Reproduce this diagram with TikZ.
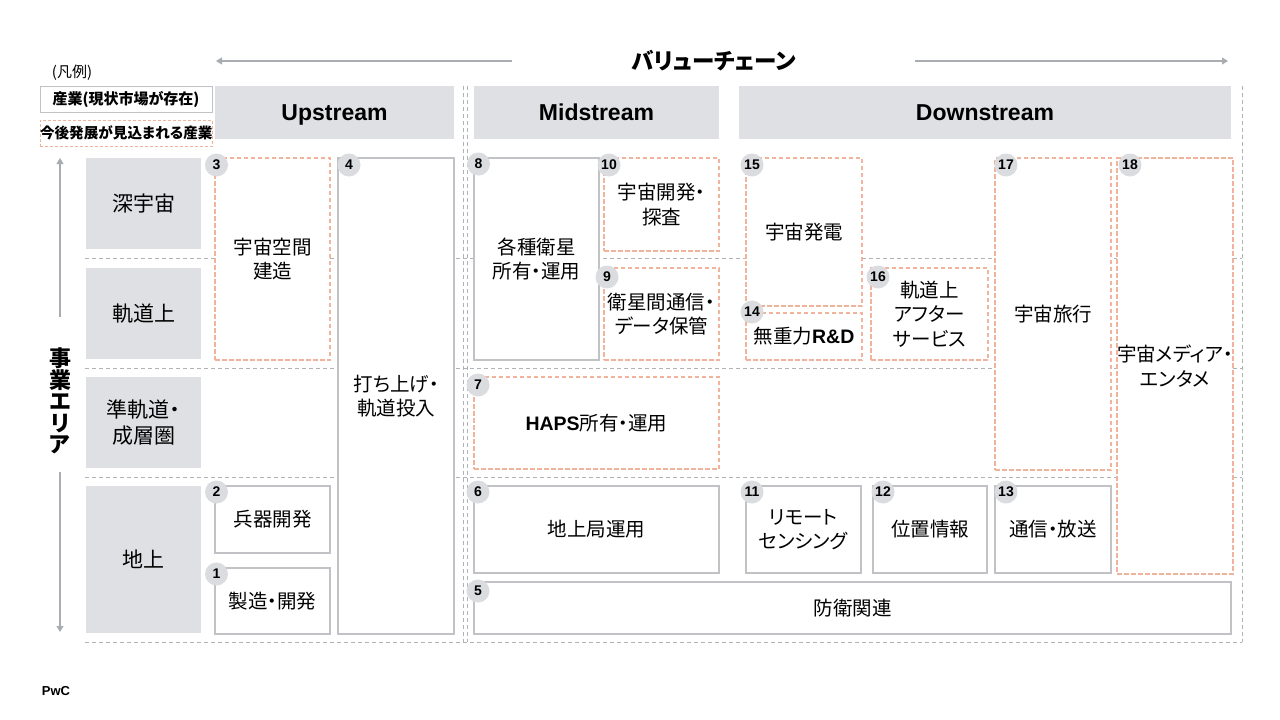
\documentclass[tikz,border=0pt]{standalone}
\usepackage{fontspec}
\setmainfont{Noto Sans CJK JP}[RawFeature=+palt]
\newfontfamily\arialf{Liberation Sans}
\usetikzlibrary{arrows.meta}
\definecolor{hdr}{HTML}{DEE0E3}
\definecolor{bord}{HTML}{C0C2C6}
\definecolor{org}{HTML}{F1B39B}
\definecolor{gridc}{HTML}{AFB2B7}
\definecolor{circ}{HTML}{DADCDF}
\definecolor{arrg}{HTML}{A9ACB1}
\begin{document}
\begin{tikzpicture}[x=1pt,y=-1pt,
  every node/.style={inner sep=0pt, outer sep=0pt},
  bx/.style={draw=bord, line width=1.4pt, fill=white, anchor=north west, align=center, text=black, font=\fontsize{19.5}{24.5}\selectfont},
  fbx/.style={bx, draw=org, dash pattern=on 4.5pt off 2.5pt},
  hd/.style={fill=hdr, anchor=north west, align=center},
  hdtxt/.style={font=\arialf\bfseries\fontsize{23}{23}\selectfont, text height=16.5pt, text depth=0pt},
  rowtxt/.style={font=\fontsize{21}{26}\selectfont},
  num/.style={circle, fill=circ, minimum size=23pt, font=\arialf\bfseries\fontsize{14}{14}\selectfont},
  gl/.style={draw=gridc, line width=0.8pt, dash pattern=on 4pt off 3pt},
  ga/.style={draw=arrg, line width=1.1pt, -{Triangle[width=7pt,length=6pt]}}]

\fill[white] (0,0) rectangle (1280,720);
\useasboundingbox (0,0) rectangle (1280,720);

% grid
\foreach \yy in {258,368,477,642} \draw[gl] (85,\yy) -- (1242,\yy);
\draw[gl] (463,86) -- (463,642);
\draw[gl] (467,86) -- (467,642);
\draw[gl] (1242,86) -- (1242,642);

% title and value chain arrows
\node[font=\bfseries\fontsize{22.5}{22.5}\selectfont] (vc) at (714,61) {バリューチェーン};
\coordinate (vcl) at (512,61); \coordinate (vcle) at (216,61);
\coordinate (vcr) at (915,61); \coordinate (vcre) at (1228,61);
\draw[ga] (vcl) -- (vcle);
\draw[ga] (vcr) -- (vcre);

% legend
\node[font=\fontsize{15}{15}\selectfont] (lg) at (72,73) {(凡例)};
\node[draw=bord, line width=1pt, anchor=north west, minimum width=172pt, minimum height=26pt, font=\bfseries\fontsize{15}{15}\selectfont] (lg1) at (40,86) {産業(現状市場が存在)};
\node[draw=org, line width=1pt, dash pattern=on 3pt off 2pt, anchor=north west, minimum width=172pt, minimum height=26pt, font=\bfseries\fontsize{14.6}{14.6}\selectfont] (lg2) at (40,120) {今後発展が見込まれる産業};

% headers
\node[hd, hdtxt, minimum width=239pt, minimum height=53pt] (up) at (215,86) {Upstream};
\node[hd, hdtxt, minimum width=245pt, minimum height=53pt] (mid) at (474,86) {Midstream};
\node[hd, hdtxt, minimum width=492pt, minimum height=53pt] (down) at (739,86) {Downstream};

% row labels
\node[hd, rowtxt, minimum width=115pt, minimum height=91pt] (r1) at (86,158) {深宇宙};
\node[hd, rowtxt, minimum width=115pt, minimum height=91pt] (r2) at (86,268) {軌道上};
\node[hd, rowtxt, minimum width=115pt, minimum height=91pt] (r3) at (86,377) {準軌道・\\成層圏};
\node[hd, rowtxt, minimum width=115pt, minimum height=147pt] (r4) at (86,486) {地上};

% business area axis
\node[font=\bfseries\fontsize{22}{21.5}\selectfont, align=center] (area) at (60,401) {事\\業\\エ\\リ\\ア};
\coordinate (au0) at (60,317); \coordinate (au) at (60,158);
\coordinate (ad0) at (60,472); \coordinate (ad) at (60,632);
\draw[ga] (au0) -- (au);
\draw[ga] (ad0) -- (ad);

% upstream boxes
\node[fbx, minimum width=115pt, minimum height=202pt] (b3) at (215,158) {宇宙空間\\建造};
\node[bx, minimum width=116pt, minimum height=476pt] (b4) at (338,158) {打ち上げ・\\軌道投入};
\node[bx, minimum width=115pt, minimum height=67pt] (b2) at (215,486) {兵器開発};
\node[bx, minimum width=115pt, minimum height=66pt] (b1) at (215,568) {製造・開発};

% midstream boxes
\node[bx, minimum width=125pt, minimum height=202pt] (b8) at (474,158) {各種衛星\\所有・運用};
\node[fbx, minimum width=115pt, minimum height=93pt] (b10) at (604,158) {宇宙開発・\\探査};
\node[fbx, minimum width=115pt, minimum height=92pt] (b9) at (604,268) {衛星間通信・\\データ保管};
\node[fbx, minimum width=245pt, minimum height=92pt] (b7) at (474,377) {{\arialf\bfseries HAPS}所有・運用};
\node[bx, minimum width=245pt, minimum height=87pt] (b6) at (474,486) {地上局運用};
\node[bx, minimum width=757pt, minimum height=52pt] (b5) at (474,582) {防衛関連};

% downstream boxes
\node[fbx, minimum width=116pt, minimum height=148pt] (b15) at (746,158) {宇宙発電};
\node[fbx, minimum width=116pt, minimum height=47pt] (b14) at (746,313) {無重力{\arialf\bfseries R\&D}};
\node[fbx, minimum width=117pt, minimum height=92pt] (b16) at (871,268) {軌道上\\アフター\\サービス};
\node[fbx, minimum width=116pt, minimum height=312pt] (b17) at (995,158) {宇宙旅行};
\node[fbx, minimum width=113pt, minimum height=416pt] (b18) at (1117,158) {宇宙メディア・\\エンタメ};
\node[bx, minimum width=115pt, minimum height=87pt] (b11) at (746,486) {リモート\\センシング};
\node[bx, minimum width=114pt, minimum height=87pt] (b12) at (873,486) {位置情報};
\node[bx, minimum width=116pt, minimum height=87pt] (b13) at (995,486) {通信・放送};

% number badges
\node[num] (n1) at (216.5,574) {1};
\node[num] (n2) at (216.5,492) {2};
\node[num] (n3) at (216.5,165) {3};
\node[num] (n4) at (349,165) {4};
\node[num] (n5) at (478,591) {5};
\node[num] (n6) at (478,492) {6};
\node[num] (n7) at (478,385) {7};
\node[num] (n8) at (478.5,164) {8};
\node[num] (n9) at (607,277) {9};
\node[num] (n10) at (609,165) {10};
\node[num] (n11) at (752,492) {11};
\node[num] (n12) at (883,492) {12};
\node[num] (n13) at (1006,492) {13};
\node[num] (n14) at (752,312) {14};
\node[num] (n15) at (752,165) {15};
\node[num] (n16) at (878,277) {16};
\node[num] (n17) at (1006,165) {17};
\node[num] (n18) at (1130,165) {18};

% footer
\node[font=\arialf\bfseries\fontsize{13}{13}\selectfont] (pwc) at (56,691) {PwC};
\end{tikzpicture}
\end{document}
